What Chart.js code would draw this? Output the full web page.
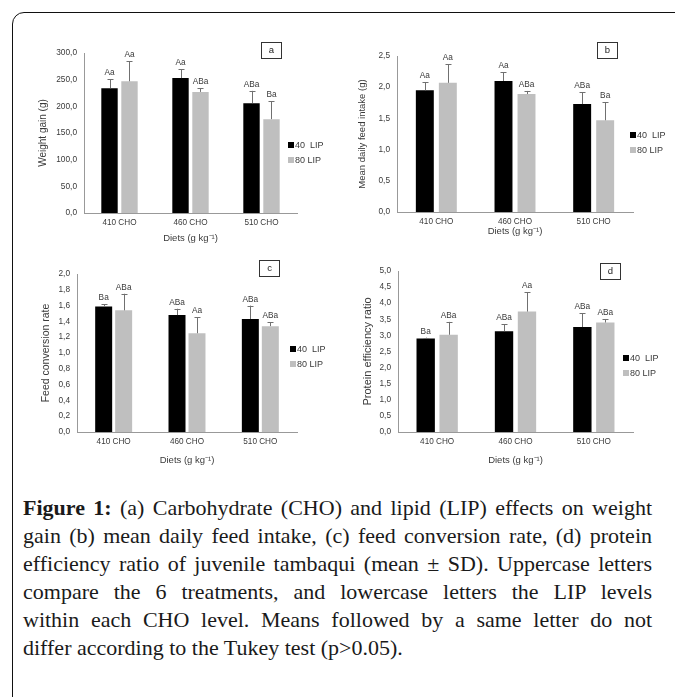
<!DOCTYPE html>
<html>
<head>
<meta charset="utf-8">
<script src="https://cdn.jsdelivr.net/npm/chart.js@4"></script>
<style>
  html, body { margin: 0; padding: 0; background: #fff; }
  body { width: 675px; height: 697px; position: relative; overflow: hidden; }
  #frame { position: absolute; left: 12px; top: 12px; width: 700px; height: 740px;
           border: 1.5px solid #111; border-radius: 12px; }
  canvas { position: absolute; }
  #caption { position: absolute; left: 23px; top: 494px; width: 629px;
             font-family: "Liberation Serif", serif; font-size: 22px; line-height: 28px; color: #1a1a1a; }
  #caption div { text-align: justify; text-align-last: justify; white-space: nowrap; }
  #caption div.last { text-align-last: left; }
  #caption b { font-weight: bold; }
</style>
</head>
<body>
<div id="frame"></div>
<canvas id="chartA"></canvas>
<canvas id="chartB"></canvas>
<canvas id="chartC"></canvas>
<canvas id="chartD"></canvas>
<div id="caption">
  <div><b>Figure 1:</b> (a) Carbohydrate (CHO) and lipid (LIP) effects on weight</div>
  <div>gain (b) mean daily feed intake, (c) feed conversion rate, (d) protein</div>
  <div>efficiency ratio of juvenile tambaqui (mean ± SD). Uppercase letters</div>
  <div>compare the 6 treatments, and lowercase letters the LIP levels</div>
  <div>within each CHO level. Means followed by a same letter do not</div>
  <div class="last">differ according to the Tukey test (p&gt;0.05).</div>
</div>
<script>
// categories and series
const categories = ['410 CHO', '460 CHO', '510 CHO'];
const seriesNames = ['40  LIP', '80 LIP'];

// (a) weight gain (g)
const gain40 = [234, 253, 206];
const gain80 = [247, 227, 176];
const gainSd40 = [17, 17, 23];
const gainSd80 = [38, 7, 34];
const gainLetters40 = ['Aa', 'Aa', 'ABa'];
const gainLetters80 = ['Aa', 'ABa', 'Ba'];
const gainTicks = [0, 50, 100, 150, 200, 250, 300];

// (b) mean daily feed intake (g)
const intake40 = [1.95, 2.10, 1.73];
const intake80 = [2.07, 1.89, 1.47];
const intakeSd40 = [0.13, 0.14, 0.19];
const intakeSd80 = [0.30, 0.05, 0.29];
const intakeLetters40 = ['Aa', 'Aa', 'ABa'];
const intakeLetters80 = ['Aa', 'ABa', 'Ba'];
const intakeTicks = [0, 0.5, 1.0, 1.5, 2.0, 2.5];

// (c) feed conversion rate
const fcr40 = [1.59, 1.48, 1.43];
const fcr80 = [1.54, 1.25, 1.34];
const fcrSd40 = [0.03, 0.08, 0.17];
const fcrSd80 = [0.21, 0.20, 0.05];
const fcrLetters40 = ['Ba', 'ABa', 'ABa'];
const fcrLetters80 = ['ABa', 'Aa', 'ABa'];
const fcrTicks = [0, 0.2, 0.4, 0.6, 0.8, 1.0, 1.2, 1.4, 1.6, 1.8, 2.0];

// (d) protein efficiency ratio
const per40 = [2.90, 3.13, 3.26];
const per80 = [3.02, 3.74, 3.40];
const perSd40 = [0.03, 0.21, 0.43];
const perSd80 = [0.40, 0.60, 0.11];
const perLetters40 = ['Ba', 'ABa', 'ABa'];
const perLetters80 = ['ABa', 'Aa', 'ABa'];
const perTicks = [0, 0.5, 1.0, 1.5, 2.0, 2.5, 3.0, 3.5, 4.0, 4.5, 5.0];

const barColors = ['#000000', '#bfbfbf'];
const textColor = '#3a3a3a';
const axisColor = '#999999';
const FONT = '"Liberation Sans", Arial, sans-serif';

// draws error bars, letters, the legend and the panel letter box
const extrasPlugin = {
  id: 'extras',
  afterDatasetsDraw(chart) {
    const ctx = chart.ctx;
    const y = chart.scales.y;
    const ex = chart.options.plugins.extras;
    ctx.save();
    chart.data.datasets.forEach((ds, i) => {
      const meta = chart.getDatasetMeta(i);
      meta.data.forEach((bar, j) => {
        const top = y.getPixelForValue(ds.data[j] + ds.sd[j]);
        ctx.strokeStyle = '#707070';
        ctx.lineWidth = 1;
        ctx.beginPath();
        ctx.moveTo(Math.round(bar.x) + 0.5, bar.y);
        ctx.lineTo(Math.round(bar.x) + 0.5, top);
        ctx.moveTo(Math.round(bar.x) - 2.5, Math.round(top) + 0.5);
        ctx.lineTo(Math.round(bar.x) + 3.5, Math.round(top) + 0.5);
        ctx.stroke();
        ctx.fillStyle = textColor;
        ctx.font = '8.3px ' + FONT;
        ctx.textAlign = 'center';
        ctx.textBaseline = 'alphabetic';
        ctx.fillText(ds.letters[j], bar.x, top - 4);
      });
    });

    const area = chart.chartArea;
    // legend
    chart.data.datasets.forEach((ds, i) => {
      const lx = area.right + ex.legendX;
      const ly = area.top + ex.legendY + i * 15;
      ctx.fillStyle = ds.backgroundColor;
      ctx.fillRect(lx, ly - 3, 6, 6);
      ctx.fillStyle = textColor;
      ctx.font = '9px ' + FONT;
      ctx.textAlign = 'left';
      ctx.textBaseline = 'middle';
      ctx.fillText(ds.label, lx + 7, ly + 0.5);
    });

    // panel letter box
    const bx = area.left + ex.boxX, by = area.top + ex.boxY;
    ctx.strokeStyle = '#333';
    ctx.lineWidth = 1;
    ctx.strokeRect(bx + 0.5, by + 0.5, 20, 16);
    ctx.fillStyle = '#222';
    ctx.font = '9.5px ' + FONT;
    ctx.textAlign = 'center';
    ctx.textBaseline = 'middle';
    ctx.fillText(ex.panel, bx + 10.5, by + 8.5);
    ctx.restore();
  }
};

function fmt(v) {
  return v.toFixed(1).replace('.', ',');
}

// L,R,T,B = chart area on the page
function makePanel(id, box, cfg) {
  const yW = 60, xH = 40, padT = 20, padR = 50;
  const canvas = document.getElementById(id);
  const w = (box.R - box.L) + yW + padR;
  const h = (box.B - box.T) + padT + xH;
  canvas.width = w;
  canvas.height = h;
  canvas.style.left = (box.L - yW) + 'px';
  canvas.style.top = (box.T - padT) + 'px';
  canvas.style.width = w + 'px';
  canvas.style.height = h + 'px';

  new Chart(canvas.getContext('2d'), {
    type: 'bar',
    data: {
      labels: categories,
      datasets: [
        { label: seriesNames[0], data: cfg.s1, sd: cfg.sd1, letters: cfg.l1, backgroundColor: barColors[0] },
        { label: seriesNames[1], data: cfg.s2, sd: cfg.sd2, letters: cfg.l2, backgroundColor: barColors[1] }
      ]
    },
    options: {
      responsive: false,
      animation: false,
      devicePixelRatio: 1,
      categoryPercentage: box.cp,
      barPercentage: box.bp,
      layout: { padding: { left: 0, right: padR, top: padT, bottom: 0 } },
      plugins: {
        legend: { display: false },
        tooltip: { enabled: false },
        extras: { panel: cfg.panel, legendX: box.legX, legendY: box.legY, boxX: box.boxX, boxY: box.boxY }
      },
      scales: {
        x: {
          grid: { display: false, drawTicks: false },
          border: { display: true, color: axisColor, width: 1 },
          ticks: { color: textColor, font: { family: FONT, size: 8.2 }, padding: 5 },
          title: { display: true, text: 'Diets (g kg⁻¹)', color: textColor,
                   font: { family: FONT, size: 9.5 }, padding: { top: 0, bottom: box.xTitlePad } },
          afterFit(scale) { scale.height = xH; }
        },
        y: {
          min: cfg.ticks[0],
          max: cfg.ticks[cfg.ticks.length - 1],
          grid: { display: false, drawTicks: false },
          border: { display: true, color: axisColor, width: 1 },
          afterBuildTicks(scale) { scale.ticks = cfg.ticks.map(v => ({ value: v })); },
          ticks: { color: textColor, font: { family: FONT, size: 8.3 }, padding: 7,
                   callback: v => fmt(v) },
          title: { display: true, text: cfg.yTitle, color: textColor,
                   font: { family: FONT, size: box.yTitleSize }, padding: { top: box.yTitlePad, bottom: 0 } },
          afterFit(scale) { scale.width = yW; }
        }
      }
    },
    plugins: [extrasPlugin]
  });
}

makePanel('chartA',
  { L: 84, R: 297, T: 53, B: 213, cp: 0.563, bp: 0.82, legX: -9, legY: 92, boxX: 177, boxY: -11,
    xTitlePad: 9, yTitlePad: 13, yTitleSize: 10 },
  { panel: 'a', s1: gain40, s2: gain80, sd1: gainSd40, sd2: gainSd80, l1: gainLetters40, l2: gainLetters80,
    ticks: gainTicks, yTitle: 'Weight gain (g)' });

makePanel('chartB',
  { L: 397, R: 633, T: 56, B: 212, cp: 0.585, bp: 0.78, legX: -3, legY: 79, boxX: 200, boxY: -14,
    xTitlePad: 15, yTitlePad: 20, yTitleSize: 9.5 },
  { panel: 'b', s1: intake40, s2: intake80, sd1: intakeSd40, sd2: intakeSd80, l1: intakeLetters40, l2: intakeLetters80,
    ticks: intakeTicks, yTitle: 'Mean daily feed intake (g)' });

makePanel('chartC',
  { L: 77, R: 297, T: 274, B: 432, cp: 0.545, bp: 0.85, legX: -7, legY: 75, boxX: 182, boxY: -14,
    xTitlePad: 6, yTitlePad: 23, yTitleSize: 10.5 },
  { panel: 'c', s1: fcr40, s2: fcr80, sd1: fcrSd40, sd2: fcrSd80, l1: fcrLetters40, l2: fcrLetters80,
    ticks: fcrTicks, yTitle: 'Feed conversion rate' });

makePanel('chartD',
  { L: 398, R: 633, T: 271, B: 432, cp: 0.586, bp: 0.80, legX: -10, legY: 87, boxX: 202, boxY: -8,
    xTitlePad: 6, yTitlePad: 23, yTitleSize: 11 },
  { panel: 'd', s1: per40, s2: per80, sd1: perSd40, sd2: perSd80, l1: perLetters40, l2: perLetters80,
    ticks: perTicks, yTitle: 'Protein efficiency ratio' });
</script>
</body>
</html>
